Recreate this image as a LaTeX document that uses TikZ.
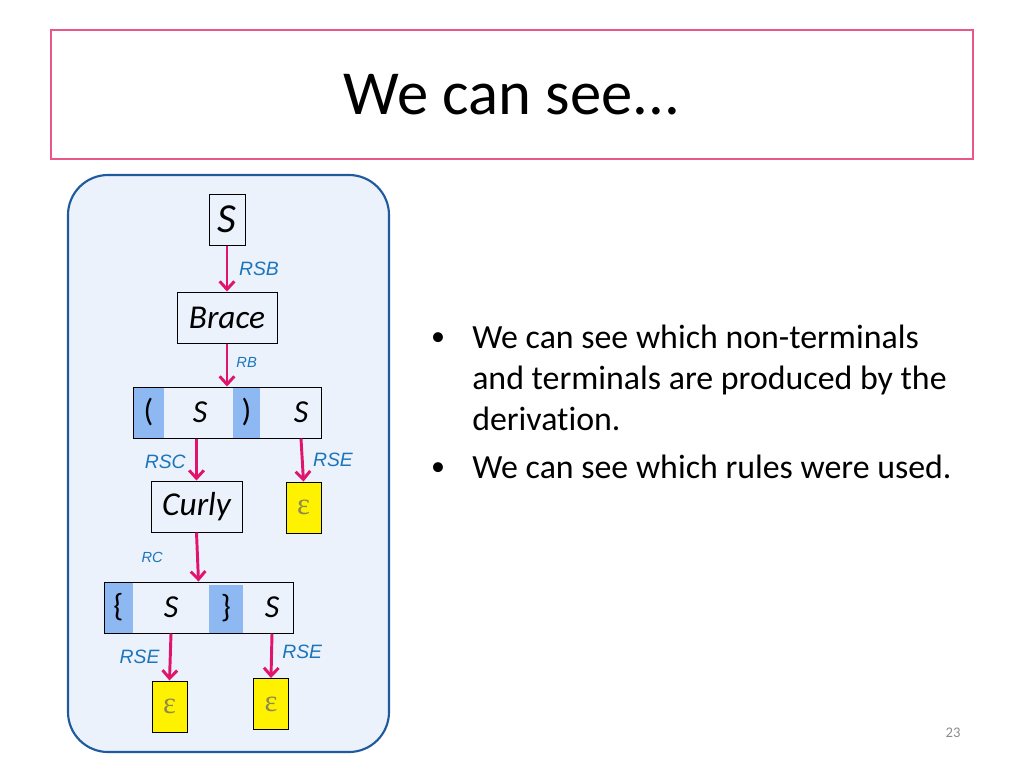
\documentclass[tikz,border=0pt]{standalone}
\usepackage{fontspec}
\setmainfont{Carlito}[Ligatures=NoCommon]
\newfontfamily\lblfont{Liberation Sans}
\newfontfamily\epsfont{Liberation Serif}
\usetikzlibrary{arrows.meta}
\definecolor{titlepink}{HTML}{E8578A}
\definecolor{arrowpink}{HTML}{E0146C}
\definecolor{panelblue}{HTML}{1F5A9E}
\definecolor{panelfill}{HTML}{EBF2FC}
\definecolor{cellblue}{HTML}{8DB8F2}
\definecolor{rulelbl}{HTML}{1B75BB}
\definecolor{epsgrey}{HTML}{8C8A4E}
\definecolor{pagegrey}{HTML}{8C8C8C}

\begin{document}
\begin{tikzpicture}[x=0.75pt,y=-0.75pt,
        symbox/.style={draw,line width=0.75pt,inner sep=0pt,minimum height=38.25pt,
            font=\fontsize{25}{25}\selectfont\itshape},
        cell/.style={inner sep=0pt,minimum height=38.25pt,
            font=\fontsize{24}{24}\selectfont\itshape},
        bcell/.style={cell,fill=cellblue,font=\fontsize{24}{24}\selectfont},
        epsbox/.style={draw,line width=0.75pt,fill=yellow,inner sep=0pt,
            minimum width=26.25pt,minimum height=38.25pt,text=epsgrey,
            font=\epsfont\fontsize{23}{23}\selectfont},
        rule/.style={-{Straight Barb[length=6pt,width=11pt]},arrowpink,line width=2.2pt},
        lbl/.style={text=rulelbl,inner sep=1pt,font=\lblfont\itshape\fontsize{14.5}{14.5}\selectfont},
        slbl/.style={lbl,font=\lblfont\itshape\fontsize{11}{11}\selectfont},
        bullet/.style={anchor=base west,inner sep=0pt,font=\fontsize{25.4}{30.4}\selectfont}]
    \useasboundingbox (0,0) rectangle (1024,768);
    % title
    \node[draw=titlepink,line width=1.1pt,minimum width=691.5pt,minimum height=96.75pt]
        (title) at (512,94.5) {};
    \node[font=\fontsize{47}{47}\selectfont] (titletext) at (512,95) {We can see...};
    % panel
    \draw[panelblue,fill=panelfill,line width=1.6pt,rounded corners=30pt]
        (68,175) rectangle (389,752);
    % derivation tree
    \node[symbox,minimum width=27pt,font=\fontsize{31}{31}\selectfont\itshape] (start) at (227,219.5) {S};
    \node[symbox,minimum width=75pt] (brace) at (227,317.5) {Brace};
    \node[bcell,minimum width=23.25pt] (lpar) at (148.5,412.5) {(};
    \node[bcell,minimum width=20.25pt] (rpar) at (246.5,412.5) {)};
    \node[cell] (sa) at (200,412.5) {S};
    \node[cell] (sb) at (301,412.5) {S};
    \node[draw,line width=0.75pt,inner sep=0pt,minimum width=141pt,minimum height=38.25pt]
        (row1) at (227,412.5) {};
    \node[symbox,minimum width=68.25pt] (curly) at (196.5,506.5) {Curly};
    \node[epsbox] (epsa) at (303.5,507.5) {ε};
    \node[bcell,minimum width=21.75pt] (lcur) at (118.5,607.5) {\{};
    \node[bcell,minimum width=25.5pt,minimum height=36pt] (rcur) at (226,608.5) {\}};
    \node[cell] (sc) at (171,607.5) {S};
    \node[cell] (sd) at (272,607.5) {S};
    \node[draw,line width=0.75pt,inner sep=0pt,minimum width=141.75pt,minimum height=38.25pt]
        (row2) at (198.5,607.5) {};
    \node[epsbox] (epsb) at (169.5,706.5) {ε};
    \node[epsbox] (epsc) at (271,704) {ε};
    % rules used
    \path
        (start.south) edge[rule] node[lbl,right=7pt] {RSB} (brace.north)
        (brace.south) edge[rule] node[slbl,right=5pt,yshift=2pt] {RB} (row1.north)
        (row1.south -| curly) edge[rule] node[lbl,left=6pt,yshift=-2pt] {RSC} (curly.north)
        (sb |- row1.south) edge[rule] node[lbl,right=6pt] {RSE} (epsa.north)
        (curly.south) edge[rule] node[slbl,left=24pt] {RC} (row2.north)
        (sc |- row2.south) edge[rule] node[lbl,left=6pt] {RSE} (epsb.north)
        (sd |- row2.south) edge[rule] node[lbl,right=6pt,yshift=3pt] {RSE} (epsc.north);
    % bullets
    \node[font=\fontsize{21}{21}\selectfont] (dota) at (438,339) {•};
    \node[font=\fontsize{21}{21}\selectfont] (dotb) at (438,469) {•};
    \node[bullet,align=left] (texta) at (472,430)
        {We can see which non-terminals\\and terminals are produced by the\\derivation.};
    \node[bullet] (textb) at (472,478) {We can see which rules were used.};
    \node[text=pagegrey,font=\fontsize{11}{11}\selectfont] (page) at (953,733) {23};
\end{tikzpicture}
\end{document}
